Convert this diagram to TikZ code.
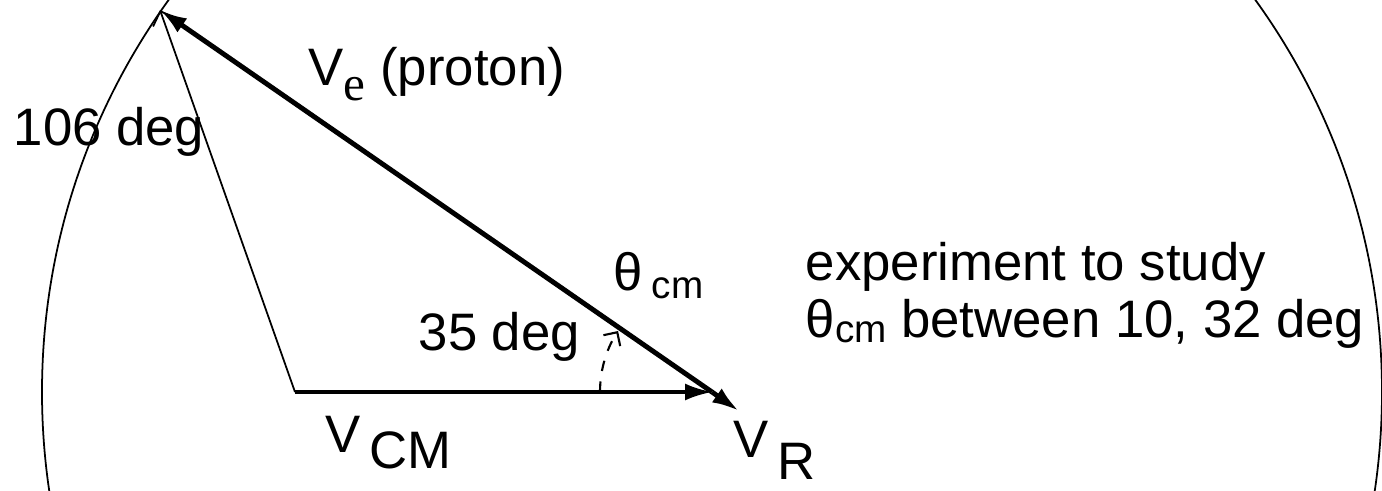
\documentclass[tikz,border=0pt]{standalone}
\usepackage{fontspec}
\setmainfont{Liberation Sans}
\newfontfamily\serifface{Liberation Serif}
\usetikzlibrary{arrows.meta}

\begin{document}
\begin{tikzpicture}[
  font=\fontsize{15}{18}\selectfont,
  vec/.style={line width=1.4pt, -{Latex[length=0.27cm, width=0.17cm]}},
  thinvec/.style={line width=0.5pt, -{Straight Barb[length=0.12cm]}},
  lbl/.style={inner sep=0pt, anchor=base west}
]
\useasboundingbox (0,0) rectangle (13.82,4.90);
\coordinate (vstart) at (2.95,0.98);
\coordinate (vcm) at (7.12,0.98);
\coordinate (apex) at (1.60,4.80);
\coordinate (vr) at (7.39,0.79);
% circle of possible end points
\begin{scope}
  \clip (0,0) rectangle (13.82,4.90);
  \draw[line width=0.5pt] (vcm) circle[radius=6.70];
\end{scope}
% vectors
\draw[thinvec] (vstart) -- (apex);
\draw[vec, line width=0.9pt] (vstart) -- (vcm);
\draw[vec] (vcm) -- (apex);
\draw[vec] (vcm) -- (vr);
\draw[dashed, line width=0.6pt, -{Straight Barb[length=0.1cm]}] ([xshift=-1.12cm]vcm) arc[start angle=180, end angle=147, radius=1.12];
% labels
\node[lbl] (ve) at (3.08,4.05) {V\raisebox{-0.15cm}{\serifface\fontsize{14}{16}\selectfont e} (proton)};
\node[lbl] (deg106) at (0.13,3.45) {106 deg};
\node[lbl] (deg35) at (4.18,1.40) {35 deg};
\node[lbl] (thcm) at (6.13,2.00) {θ\,\raisebox{-0.08cm}{\fontsize{11}{13}\selectfont cm}};
\node[lbl] (vcmlbl) at (3.25,0.38) {V\,\raisebox{-0.16cm}{CM}};
\node[lbl] (vrlbl) at (7.33,0.33) {V\,\raisebox{-0.22cm}{R}};
\node[lbl] (note) at (8.05,2.10) {experiment to study};
\node[lbl] (range) at ([yshift=-0.57cm]note.base west) {θ\raisebox{-0.05cm}{\fontsize{11}{13}\selectfont cm} between 10, 32 deg};
\end{tikzpicture}
\end{document}
